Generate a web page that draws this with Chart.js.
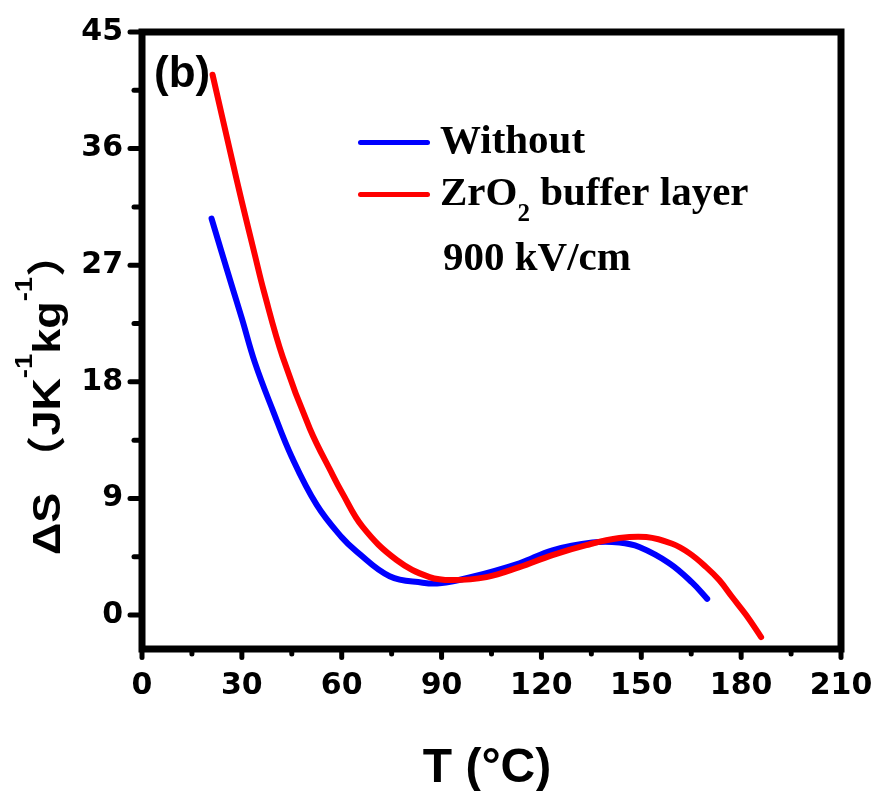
<!DOCTYPE html>
<html><head><meta charset="utf-8">
<script src="https://cdn.jsdelivr.net/npm/chart.js@4.4.1/dist/chart.umd.min.js"></script>
<style>html,body{margin:0;padding:0;background:#fff;}#wrap{width:876px;height:791px;position:relative;}</style>
</head><body><div id="wrap"><canvas id="c" width="876" height="791"></canvas></div>
<script>
// ---- data ----
const T_WITHOUT  = [20.9, 27.0, 30.0, 33.9, 39.3, 45.0, 52.5, 60.0, 64.5, 74.4, 84.3, 89.4, 98.4, 113.4, 123.3, 135.3, 143.4, 149.4, 158.4, 165.3, 169.8];
const DS_WITHOUT = [30.6, 25.4, 22.9, 19.5, 15.8, 12.2, 8.5, 6.0, 4.9, 3.0, 2.5, 2.45, 2.9, 4.0, 5.0, 5.6, 5.6, 5.25, 4.0, 2.5, 1.25];
const T_ZRO2  = [21.2, 27.0, 30.0, 33.9, 36.6, 42.3, 50.4, 57.3, 60.0, 66.3, 76.5, 86.4, 93.3, 103.5, 113.4, 123.3, 133.5, 143.4, 151.5, 159.3, 164.5, 169.5, 173.4, 177.3, 181.5, 186.0];
const DS_ZRO2 = [41.7, 35.2, 31.9, 27.8, 25.0, 19.9, 14.4, 10.8, 9.5, 6.8, 4.25, 2.93, 2.7, 2.93, 3.7, 4.63, 5.4, 5.94, 6.02, 5.5, 4.76, 3.7, 2.7, 1.39, 0.0, -1.7];
const X_TICKS = [0, 30, 60, 90, 120, 150, 180, 210];
const Y_TICKS = [0, 9, 18, 27, 36, 45];
const SERIES_NAMES = ['Without', 'ZrO₂ buffer layer'];
const SERIES_COLORS = ['#0000ff', '#ff0000'];
const FIELD_NOTE = '900 kV/cm';
const PANEL_LABEL = '(b)';
const X_TITLE = 'T (°C)';
const Y_TITLE = 'ΔS （JK⁻¹kg⁻¹）';

const SUP = {'⁻':'-', '¹':'1'};
const SUB = {'₂':'2'};
function runs(text){
  const out = [];
  for (const ch of text){
    let kind = 'n', c = ch;
    if (SUP[ch]) { kind = 'sup'; c = SUP[ch]; }
    else if (SUB[ch]) { kind = 'sub'; c = SUB[ch]; }
    if (out.length && out[out.length-1].kind === kind) out[out.length-1].t += c;
    else out.push({kind, t:c});
  }
  return out;
}
function drawRich(ctx, text, x, y, o){
  const rs = runs(text);
  const fontOf = k => (o.weight||'bold') + ' ' + (k==='n' ? o.size : o.small) + 'px ' + o.family;
  let w = 0;
  rs.forEach(r => { ctx.font = fontOf(r.kind); r.w = ctx.measureText(r.t).width; w += r.w; });
  let cx = o.align === 'center' ? x - w/2 : x;
  ctx.textBaseline = 'alphabetic'; ctx.textAlign = 'left';
  rs.forEach(r => {
    ctx.font = fontOf(r.kind);
    const dy = r.kind === 'sup' ? -o.raise : (r.kind === 'sub' ? o.lower : 0);
    ctx.fillText(r.t, cx, y + dy);
    cx += r.w;
  });
}

const framePlugin = {
  id: 'frame',
  afterDatasetsDraw(chart){
    const ctx = chart.ctx, a = chart.chartArea;
    const xs = chart.scales.x, ys = chart.scales.y;
    ctx.save();
    ctx.strokeStyle = '#000'; ctx.lineCap = 'round';
    ctx.lineWidth = 5;
    for (let i = 0; i < X_TICKS.length; i++){
      const px = xs.getPixelForValue(X_TICKS[i]);
      ctx.beginPath(); ctx.moveTo(px, a.bottom); ctx.lineTo(px, a.bottom + 8.5); ctx.stroke();
      if (i < X_TICKS.length - 1){
        const pm = xs.getPixelForValue((X_TICKS[i] + X_TICKS[i+1]) / 2);
        ctx.beginPath(); ctx.moveTo(pm, a.bottom); ctx.lineTo(pm, a.bottom + 5); ctx.stroke();
      }
    }
    for (let i = 0; i < Y_TICKS.length; i++){
      const py = ys.getPixelForValue(Y_TICKS[i]);
      ctx.beginPath(); ctx.moveTo(a.left, py); ctx.lineTo(a.left - 12, py); ctx.stroke();
      if (i < Y_TICKS.length - 1){
        const pm = ys.getPixelForValue((Y_TICKS[i] + Y_TICKS[i+1]) / 2);
        ctx.beginPath(); ctx.moveTo(a.left, pm); ctx.lineTo(a.left - 8, pm); ctx.stroke();
      }
    }
    ctx.lineWidth = 7; ctx.lineCap = 'butt'; ctx.lineJoin = 'miter';
    ctx.strokeRect(a.left, a.top, a.right - a.left, a.bottom - a.top);
    ctx.restore();
  },
  afterDraw(chart){
    const ctx = chart.ctx;
    ctx.save();
    ctx.fillStyle = '#000';
    ctx.font = 'bold 44px "Liberation Sans", Arial, sans-serif';
    ctx.textAlign = 'left'; ctx.textBaseline = 'alphabetic';
    ctx.fillText(PANEL_LABEL, 154, 87);
    // legend
    const ds = chart.data.datasets;
    const rowsY = [142.5, 194.5], textY = [153, 205];
    const serif = '"Liberation Serif", "Times New Roman", serif';
    ds.forEach((d, i) => {
      ctx.strokeStyle = d.borderColor; ctx.lineWidth = 5; ctx.lineCap = 'round';
      ctx.beginPath(); ctx.moveTo(360.5, rowsY[i]); ctx.lineTo(427.5, rowsY[i]); ctx.stroke();
      ctx.fillStyle = '#000';
      drawRich(ctx, d.label, 440, textY[i], {size:41, small:25, family:serif, lower:16, raise:0});
    });
    ctx.font = 'bold 41px ' + serif;
    ctx.fillText(FIELD_NOTE, 443, 270);
    // axis titles
    drawRich(ctx, X_TITLE, 487, 782, {size:48, small:30, family:'"Liberation Sans", Arial, sans-serif', align:'center', raise:0, lower:0});
    ctx.translate(60, 555); ctx.rotate(-Math.PI/2); ctx.scale(1.15, 1);
    drawRich(ctx, Y_TITLE, 0, 0, {size:39, small:24, family:'"Liberation Sans", Arial, "Noto Sans CJK SC", sans-serif', raise:28, lower:0});
    ctx.restore();
  }
};

const toXY = (xs, ys) => xs.map((x, i) => ({x, y: ys[i]}));
const noPad = s => { s.paddingLeft = 0; s.paddingRight = 0; s.paddingTop = 0; s.paddingBottom = 0; };

new Chart(document.getElementById('c'), {
  type: 'line',
  data: {
    datasets: [
      {label: SERIES_NAMES[0], data: toXY(T_WITHOUT, DS_WITHOUT), borderColor: SERIES_COLORS[0], order: 2},
      {label: SERIES_NAMES[1], data: toXY(T_ZRO2, DS_ZRO2), borderColor: SERIES_COLORS[1], order: 1}
    ].map(d => Object.assign(d, {borderWidth: 6, pointRadius: 0, fill: false, tension: 0.4, borderCapStyle: 'round', borderJoinStyle: 'round'}))
  },
  options: {
    responsive: false, animation: false, devicePixelRatio: 1,
    layout: {padding: {left: 0, top: 32, right: 35, bottom: 0}},
    plugins: {legend: {display: false}, tooltip: {enabled: false}, title: {display: false}},
    scales: {
      x: {
        type: 'linear', min: 0, max: 210,
        afterBuildTicks: s => { s.ticks = X_TICKS.map(v => ({value: v})); },
        afterFit: s => { s.height = 142; noPad(s); },
        ticks: {color: '#000', padding: 9, font: {family: '"DejaVu Sans", sans-serif', weight: 'bold', size: 30}, maxRotation: 0, autoSkip: false},
        grid: {display: true, drawOnChartArea: false, drawTicks: true, tickLength: 10, color: 'rgba(0,0,0,0)'},
        border: {display: false}
      },
      y: {
        type: 'linear', min: -2.62, max: 45,
        afterBuildTicks: s => { s.ticks = Y_TICKS.map(v => ({value: v})); },
        afterFit: s => { s.width = 142; noPad(s); },
        ticks: {color: '#000', padding: 9, font: {family: '"DejaVu Sans", sans-serif', weight: 'bold', size: 30}, autoSkip: false},
        grid: {display: true, drawOnChartArea: false, drawTicks: true, tickLength: 10, color: 'rgba(0,0,0,0)'},
        border: {display: false}
      }
    }
  },
  plugins: [framePlugin]
});
</script></body></html>
